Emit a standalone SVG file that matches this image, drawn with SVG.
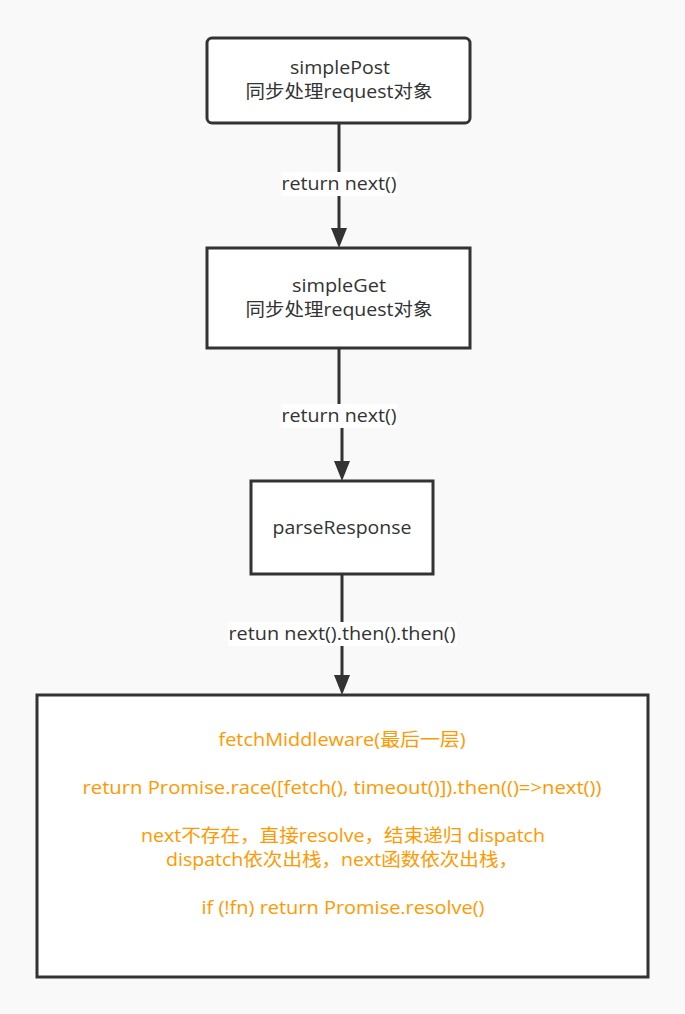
<svg xmlns="http://www.w3.org/2000/svg" width="685" height="1014" viewBox="0 0 685 1014">
<defs>
<style>
.box{fill:#ffffff;stroke:#333333;stroke-width:3}
.t{font-family:"Open Sans","Noto Sans CJK SC",sans-serif;font-size:18px;fill:#333333;text-anchor:middle}
.o{font-family:"Open Sans","Noto Sans CJK SC",sans-serif;font-size:18px;fill:#ff9900;text-anchor:middle}
.line{fill:none;stroke:#333333;stroke-width:3}
.lbg{fill:#ffffff}
.ah{fill:#333333}
</style>
</defs>
<rect x="0" y="0" width="685" height="1014" fill="#f9f9f9"/>
<g id="connectors">
<path class="line" d="M339,123 V230"/>
<path class="ah" d="M331,228 L347,228 L339,248 z"/>
<rect class="lbg" x="281" y="172" width="116" height="24"/>
<text class="t" x="339" y="190" textLength="115" lengthAdjust="spacingAndGlyphs">return next()</text>
<path class="line" d="M339,348 V416 H342 V463"/>
<path class="ah" d="M334,461 L350,461 L342,481 z"/>
<rect class="lbg" x="281" y="404" width="116" height="24"/>
<text class="t" x="339" y="422" textLength="115" lengthAdjust="spacingAndGlyphs">return next()</text>
<path class="line" d="M342,574 V677"/>
<path class="ah" d="M334,675 L350,675 L342,695 z"/>
<rect class="lbg" x="228" y="622" width="229" height="24"/>
<text class="t" x="342" y="640" textLength="227" lengthAdjust="spacingAndGlyphs">retun next().then().then()</text>
</g>
<g id="simplePost">
<rect class="box" x="207" y="38" width="263" height="85" rx="5"/>
<text class="t" x="340" y="74" textLength="100" lengthAdjust="spacingAndGlyphs">simplePost</text>
<text class="t" x="339" y="98" textLength="187" lengthAdjust="spacingAndGlyphs">同步处理request对象</text>
</g>
<g id="simpleGet">
<rect class="box" x="207" y="248" width="263" height="100"/>
<text class="t" x="339" y="292" textLength="94" lengthAdjust="spacingAndGlyphs">simpleGet</text>
<text class="t" x="339" y="316" textLength="187" lengthAdjust="spacingAndGlyphs">同步处理request对象</text>
</g>
<g id="parseResponse">
<rect class="box" x="251" y="481" width="182" height="93"/>
<text class="t" x="342" y="534" textLength="139" lengthAdjust="spacingAndGlyphs">parseResponse</text>
</g>
<g id="fetchMiddleware">
<rect class="box" x="37" y="695" width="611" height="282"/>
<text class="o" x="342" y="746" textLength="247" lengthAdjust="spacingAndGlyphs">fetchMiddleware(最后一层)</text>
<text class="o" x="342" y="794" textLength="519" lengthAdjust="spacingAndGlyphs">return Promise.race([fetch(), timeout()]).then(()=&gt;next())</text>
<text class="o" x="343" y="842" textLength="404" lengthAdjust="spacingAndGlyphs">next不存在，直接resolve，结束递归 dispatch</text>
<text class="o" x="342" y="866" textLength="352" lengthAdjust="spacingAndGlyphs">dispatch依次出栈，next函数依次出栈，</text>
<text class="o" x="343" y="914" textLength="283" lengthAdjust="spacingAndGlyphs">if (!fn) return Promise.resolve()</text>
</g>
</svg>
